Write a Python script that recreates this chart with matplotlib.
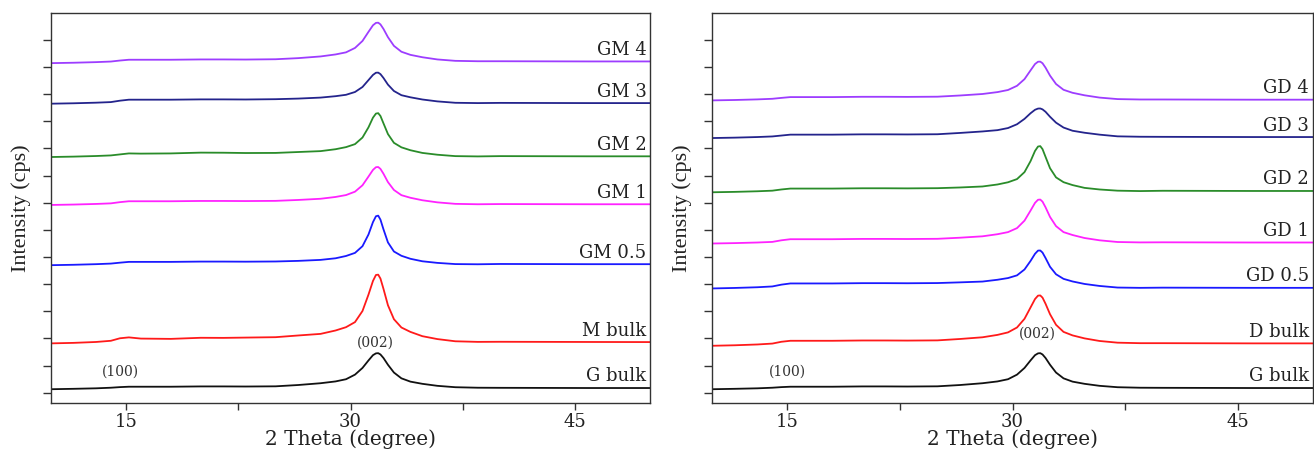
import matplotlib
matplotlib.use("Agg")
import matplotlib.pyplot as plt
from matplotlib.ticker import FixedLocator, MultipleLocator, NullFormatter

plt.rcParams['font.family'] = ['DejaVu Serif']

# ---------------- data (stacked intensity, arbitrary cps units) ----------------
two_theta = [10, 11.5, 13, 14, 14.6, 15.2, 16, 18, 20, 21.5, 23, 25,
             26.5, 28, 29, 29.7, 30.3, 30.8, 31.2, 31.5, 31.7,
             31.85, 32.0, 32.2, 32.5, 32.9, 33.4, 34.0, 34.8, 35.8, 37, 38.5,
             40, 43, 46, 50]

g_bulk = [3.5, 3.9, 4.4, 5.0, 5.6, 6.0, 6.0, 6.0, 6.3, 6.3, 6.2, 6.4,
          7.7, 9.5, 11.3, 13.5, 18.1, 24.8, 32.3, 37.6, 39.4,
          39.6, 38.3, 34.8, 28.0, 20.2, 14.4, 11.1, 8.9, 6.9, 5.5, 5.0,
          4.9, 4.8, 4.7, 4.7]
m_bulk = [49.4, 49.9, 50.8, 52.0, 54.5, 55.4, 54.2, 53.9, 55.0, 54.9, 55.2, 55.6,
          57.3, 58.9, 62.3, 65.6, 70.7, 81.8, 98.2, 111.9, 117.9,
          118.2, 114.3, 104.1, 87.6, 73.6, 65.3, 60.9, 56.6, 53.7, 51.5, 50.9,
          51.0, 50.9, 50.8, 50.7]
gm_05 = [127.7, 128.1, 128.7, 129.3, 130.2, 131.0, 131.0, 131.0, 131.3, 131.3, 131.2, 131.4,
         132.0, 133.0, 134.6, 136.9, 140.0, 146.7, 158.4, 170.8, 176.7,
         177.3, 173.3, 163.7, 150.5, 141.4, 137.1, 134.1, 131.6, 130.0, 128.8, 128.6,
         128.9, 128.8, 128.7, 128.7]
gm_1 = [188.0, 188.4, 189.0, 189.6, 190.8, 191.7, 191.7, 191.7, 192.0, 192.0, 191.9, 192.1,
        193.0, 194.2, 196.0, 197.9, 201.3, 207.7, 216.4, 223.1, 225.8,
        226.0, 224.1, 219.3, 210.9, 203.0, 197.8, 195.2, 192.7, 190.6, 189.1, 188.7,
        188.9, 188.8, 188.7, 188.7]
gm_2 = [236.0, 236.4, 237.0, 237.6, 238.6, 239.6, 239.4, 239.6, 240.4, 240.3, 240.0, 240.1,
        241.0, 241.9, 243.8, 245.9, 248.9, 255.5, 265.7, 275.4, 279.5,
        279.9, 277.1, 269.8, 259.0, 250.2, 245.7, 242.8, 240.1, 238.3, 236.9, 236.6,
        236.9, 236.8, 236.7, 236.7]
gm_3 = [289.4, 289.8, 290.4, 291.0, 292.4, 293.4, 293.4, 293.4, 293.7, 293.7, 293.6, 293.9,
        294.5, 295.5, 296.9, 298.3, 301.1, 306.1, 313.0, 318.2, 320.4,
        320.5, 319.0, 315.2, 308.5, 302.1, 297.9, 295.8, 293.6, 291.7, 290.3, 290.0,
        290.2, 290.1, 290.0, 290.0]
gm_4 = [330.0, 330.4, 331.0, 331.6, 332.6, 333.4, 333.4, 333.4, 333.7, 333.7, 333.6, 333.9,
        335.0, 336.7, 338.7, 340.8, 345.2, 352.2, 361.3, 367.9, 370.3,
        370.5, 368.8, 364.3, 356.0, 347.3, 341.4, 338.3, 335.9, 333.7, 332.3, 331.9,
        331.9, 331.8, 331.7, 331.7]

d_bulk = [47.0, 47.5, 48.3, 49.2, 51.0, 52.0, 52.0, 52.0, 52.3, 52.3, 52.2, 52.4,
          53.8, 55.5, 57.9, 60.4, 65.3, 74.0, 85.3, 93.8, 97.2,
          97.4, 95.2, 89.1, 78.6, 68.0, 60.9, 57.4, 54.4, 51.8, 50.1, 49.6,
          49.6, 49.5, 49.4, 49.4]
gd_05 = [104.4, 104.9, 105.6, 106.4, 108.2, 109.4, 109.4, 109.4, 109.7, 109.7, 109.6, 109.8,
         110.5, 111.3, 113.1, 114.8, 117.5, 123.4, 131.9, 139.1, 142.3,
         142.4, 140.3, 134.9, 126.1, 118.6, 114.0, 111.4, 108.9, 106.9, 105.3, 105.0,
         105.2, 105.1, 105.0, 105.0]
gd_1 = [149.4, 149.8, 150.4, 151.0, 152.6, 153.7, 153.7, 153.7, 154.0, 154.0, 153.9, 154.1,
        155.2, 156.6, 158.7, 160.8, 164.8, 172.3, 182.3, 190.1, 193.2,
        193.4, 191.3, 185.7, 176.0, 166.8, 160.8, 157.9, 154.9, 152.6, 150.9, 150.5,
        150.6, 150.5, 150.4, 150.4]
gd_2 = [200.7, 201.1, 201.7, 202.3, 203.5, 204.4, 204.4, 204.4, 204.7, 204.7, 204.6, 204.8,
        205.5, 206.5, 208.5, 210.7, 213.9, 220.9, 231.8, 242.1, 246.5,
        246.9, 243.9, 236.2, 224.8, 215.6, 210.8, 207.9, 205.1, 203.5, 202.3, 201.9,
        202.2, 202.1, 202.0, 202.0]
gd_3 = [255.0, 255.4, 256.0, 256.6, 257.5, 258.4, 258.4, 258.4, 258.7, 258.7, 258.6, 258.8,
        260.1, 261.6, 262.9, 265.0, 268.8, 274.2, 279.8, 283.3, 284.5,
        284.6, 283.7, 281.3, 276.3, 270.4, 265.5, 262.3, 260.3, 258.4, 256.7, 256.3,
        256.2, 256.1, 256.0, 256.0]
gd_4 = [292.7, 293.1, 293.7, 294.3, 295.2, 296.0, 296.0, 296.0, 296.3, 296.3, 296.2, 296.4,
        297.6, 299.1, 301.0, 303.1, 307.3, 314.0, 322.7, 329.1, 331.4,
        331.5, 329.9, 325.5, 317.5, 309.1, 303.3, 300.3, 297.8, 295.5, 294.0, 293.6,
        293.6, 293.5, 293.4, 293.4]

left_names = ["G bulk", "M bulk", "GM 0.5", "GM 1", "GM 2", "GM 3", "GM 4"]
right_names = ["G bulk", "D bulk", "GD 0.5", "GD 1", "GD 2", "GD 3", "GD 4"]
left_series = [g_bulk, m_bulk, gm_05, gm_1, gm_2, gm_3, gm_4]
right_series = [g_bulk, d_bulk, gd_05, gd_1, gd_2, gd_3, gd_4]
x_ticks = [15, 30, 45]

# ---------------- styling ----------------
colors = ["#111111", "#ff1a1a", "#1a1aff", "#ff22ff", "#2a8c2a", "#24248c", "#9d3dff"]
ytick_step = 27.18
spine_col = "#333333"

fig = plt.figure(figsize=(13.14, 4.55), dpi=100)
ax1 = fig.add_axes([51 / 1314, 52.3 / 455, 599 / 1314, 390 / 455])
ax2 = fig.add_axes([712.3 / 1314, 52.3 / 455, 600.4 / 1314, 390 / 455])


def style(ax, names, series, ann100, ann002):
    for name, ys, c in zip(names, series, colors):
        ax.plot(two_theta, ys, color=c, lw=1.3, solid_joinstyle='round')
        ax.annotate(name, xy=(two_theta[-1], ys[-1]), xytext=(-2.5, 4.7),
                    textcoords='offset points', ha='right', va='baseline',
                    fontsize=13, color='#222222')
    ax.set_xlim(10, 50)
    ax.set_ylim(-10, 380.5)
    ax.xaxis.set_major_locator(FixedLocator(x_ticks))
    ax.xaxis.set_minor_locator(MultipleLocator(7.5))
    ax.yaxis.set_major_locator(FixedLocator([k * ytick_step for k in range(15)]))
    ax.yaxis.set_major_formatter(NullFormatter())
    ax.tick_params(axis='x', which='both', direction='out', length=5.3, width=1.0,
                   color=spine_col, labelsize=13, labelcolor='#222222', pad=2.2,
                   top=False)
    ax.tick_params(axis='y', which='both', direction='out', length=6, width=1.0,
                   color=spine_col, right=False)
    for sp in ax.spines.values():
        sp.set_color(spine_col)
        sp.set_linewidth(1.0)
    ax.set_xlabel("2 Theta (degree)", fontsize=14.5, color='#222222', labelpad=-1)
    ax.set_ylabel("Intensity (cps)", fontsize=16, color='#222222', labelpad=5,
                  family=['Liberation Serif', 'DejaVu Serif'])
    ax.text(ann100[0], ann100[1], "(100)", ha='center', va='center', fontsize=10,
            color='#333333')
    ax.text(ann002[0], ann002[1], "(002)", ha='center', va='center', fontsize=10,
            color='#333333')


style(ax1, left_names, left_series, (14.67, 21.0), (31.67, 50.4))
style(ax2, right_names, right_series, (15.0, 21.0), (31.66, 59.4))

fig.savefig("out.png", dpi=100)
